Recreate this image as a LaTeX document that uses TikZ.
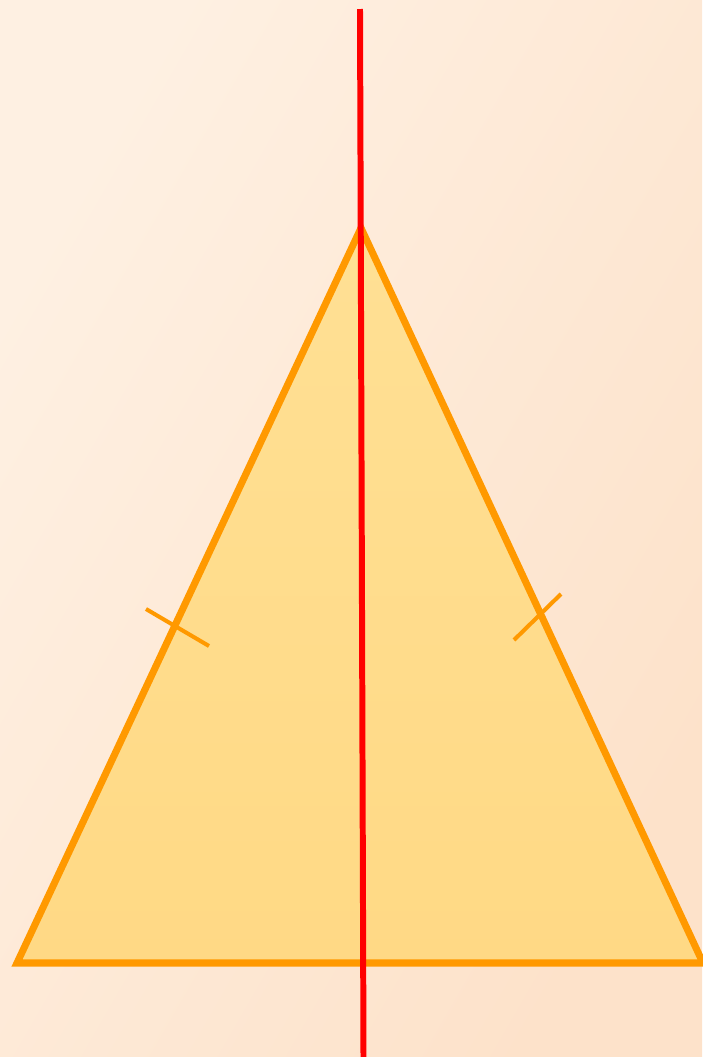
\documentclass[tikz,border=0pt]{standalone}
\usepackage{xcolor}
\usetikzlibrary{calc}

\begin{document}
\begin{tikzpicture}[x=0.01cm, y=-0.01cm]

\definecolor{bgA}{HTML}{FEF0E2}
\definecolor{bgB}{HTML}{FDE2CA}
\definecolor{triA}{HTML}{FFE094}
\definecolor{triB}{HTML}{FFD985}
\definecolor{edge}{HTML}{FF9900}
\definecolor{axis}{HTML}{FF0000}

\tikzset{
  tri/.style={draw=edge, line width=2pt, line join=miter, top color=triA, bottom color=triB},
  tick/.style={draw=edge, line width=1.15pt},
  symaxis/.style={draw=axis, line width=1.7pt}
}

%background
\useasboundingbox (0,0) rectangle (702,1057);
\shade[left color=bgA, right color=bgB, shading angle=60] (0,0) rectangle (702,1057);

%triangle
\coordinate (A) at (361,228);
\coordinate (B) at (17,963);
\coordinate (C) at (703,963);
\path[tri] (A) -- (B) -- (C) -- cycle;

%equal sides
\coordinate (t1a) at (146,609);
\coordinate (t1b) at (209,646);
\coordinate (t2a) at (514,640);
\coordinate (t2b) at (561,594);
\draw[tick] (t1a) -- (t1b);
\draw[tick] (t2a) -- (t2b);

%axis of symmetry
\coordinate (top) at (360,9);
\coordinate (bot) at (363.5,1057);
\draw[symaxis] (top) -- (bot);
\end{tikzpicture}
\end{document}
